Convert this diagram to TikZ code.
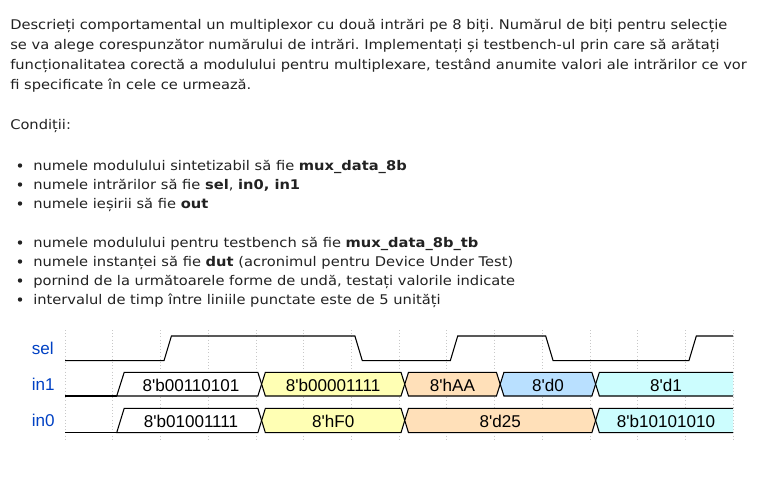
\documentclass[tikz,border=0pt]{standalone}
\usepackage{fontspec}
\setmainfont[FakeStretch=1.1]{DejaVu Sans}
\newfontfamily\wavefont{Liberation Sans}
\definecolor{txtc}{RGB}{34,34,34}
\definecolor{lblc}{HTML}{0041C4}
\definecolor{cyel}{HTML}{FFFFB4}
\definecolor{corg}{HTML}{FFE0B9}
\definecolor{cblu}{HTML}{B9E0FF}
\definecolor{ccya}{HTML}{CCFDFE}
\definecolor{gridc}{RGB}{200,200,200}
\tikzset{
  txt/.style={inner sep=0pt, anchor=base west, text=txtc, font=\fontsize{10pt}{12pt}\selectfont\frenchspacing},
  bul/.style={circle, fill=txtc, inner sep=0pt, minimum size=3.3pt},
  wave/.style={line width=0.8pt, draw=black},
  lbl/.style={inner sep=0pt, anchor=base west, text=lblc, font=\wavefont\fontsize{12.8pt}{14pt}\selectfont},
  bustext/.style={inner sep=0pt, anchor=base, text=black, font=\wavefont\fontsize{12.8pt}{14pt}\selectfont},
  gridln/.style={draw=gridc, line width=0.5pt, dash pattern=on 0.8pt off 1.6pt}
}
\newcommand\busseg[7]{%
  \pgfmathsetmacro\xa{#1}\pgfmathsetmacro\xb{#2}\pgfmathsetmacro\mm{(#3+#4)/2}%
  \pgfmathsetmacro\cx{(\xa+9.5+\xb+2)/2}%
  \filldraw[wave, fill=#5] (\xa+5.75,\mm) -- (\xa+9.5,#3) -- (\xb+2,#3) -- (\xb+5.75,\mm) -- (\xb+2,#4) -- (\xa+9.5,#4) -- cycle;
  \node[bustext] (#7) at (\cx,\mm+7.4) {#6};
}
\begin{document}
\begin{tikzpicture}[x=0.75pt,y=-0.75pt]
\useasboundingbox (0,0) rectangle (780,480);
\fill[white] (0,0) rectangle (780,480);

% paragraph
\node[txt] (p1) at (10,29) {Descrieți comportamental un multiplexor cu două intrări pe 8 biți. Numărul de biți pentru selecție};
\node[txt] (p2) at (10,49) {se va alege corespunzător numărului de intrări. Implementați și testbench-ul prin care să arătați};
\node[txt] (p3) at (10,69) {funcționalitatea corectă a modulului pentru multiplexare, testând anumite valori ale intrărilor ce vor};
\node[txt] (p4) at (10,89) {fi specificate în cele ce urmează.};
\node[txt] (cond) at (10,129) {Condiții:};

% bullets
\node[bul] (b1) at (20,165.5) {};
\node[txt] (l1) at (33,170) {numele modulului sintetizabil să fie \textbf{mux\_data\_8b}};
\node[bul] (b2) at (20,184.5) {};
\node[txt] (l2) at (33,189) {numele intrărilor să fie \textbf{sel}, \textbf{in0, in1}};
\node[bul] (b3) at (20,203.5) {};
\node[txt] (l3) at (33,208) {numele ieșirii să fie \textbf{out}};

\node[bul] (b4) at (20,242.5) {};
\node[txt] (l4) at (33,247) {numele modulului pentru testbench să fie \textbf{mux\_data\_8b\_tb}};
\node[bul] (b5) at (20,261.5) {};
\node[txt] (l5) at (33,266) {numele instanței să fie \textbf{dut} (acronimul pentru Device Under Test)};
\node[bul] (b6) at (20,280.5) {};
\node[txt] (l6) at (33,285) {pornind de la următoarele forme de undă, testați valorile indicate};
\node[bul] (b7) at (20,299.5) {};
\node[txt] (l7) at (33,304) {intervalul de timp între liniile punctate este de 5 unități};

% grid lines
\foreach \i in {0,...,14} {
  \draw[gridln] ({65+47.714*\i},330) -- ({65+47.714*\i},440);
}

% labels
\node[lbl] (sel) at (31.5,354.3) {sel};
\node[lbl] (in1) at (31.5,390) {in1};
\node[lbl] (in0) at (31.5,426.5) {in0};

% sel waveform
\draw[wave] (65,360.7) -- (164.0,360.7) -- (171.4,336) -- (354.9,336) -- (362.3,360.7)
  -- (450.3,360.7) -- (457.7,336) -- (545.7,336) -- (553.1,360.7)
  -- (688.9,360.7) -- (696.3,336) -- (733,336);

% in1
\draw[wave] (65,396) -- (116.7,396);
\filldraw[wave, fill=white] (116.7,396) -- (124.2,372.3) -- (257.86,372.3) -- (261.6,384.15) -- (257.86,396) -- cycle;
\node[bustext] (v11) at (191,391.6) {8'b00110101};
\busseg{255.86}{399.0}{372.3}{396}{cyel}{8'b00001111}{v12}
\busseg{399.0}{494.43}{372.3}{396}{corg}{8'hAA}{v13}
\busseg{494.43}{589.86}{372.3}{396}{cblu}{8'd0}{v14}
\fill[ccya] (595.61,384.15) -- (599.36,372.3) -- (733,372.3) -- (733,396) -- (599.36,396) -- cycle;
\draw[wave] (733,372.3) -- (599.36,372.3) -- (595.61,384.15) -- (599.36,396) -- (733,396);
\node[bustext] (v15) at (666,391.6) {8'd1};

% in0
\draw[wave] (65,432.7) -- (116.7,432.7);
\filldraw[wave, fill=white] (116.7,432.7) -- (124.2,408.3) -- (257.86,408.3) -- (261.6,420.5) -- (257.86,432.7) -- cycle;
\node[bustext] (v01) at (191,427.9) {8'b01001111};
\busseg{255.86}{399.0}{408.3}{432.7}{cyel}{8'hF0}{v02}
\busseg{399.0}{589.86}{408.3}{432.7}{corg}{8'd25}{v03}
\fill[ccya] (595.61,420.5) -- (599.36,408.3) -- (733,408.3) -- (733,432.7) -- (599.36,432.7) -- cycle;
\draw[wave] (733,408.3) -- (599.36,408.3) -- (595.61,420.5) -- (599.36,432.7) -- (733,432.7);
\node[bustext] (v04) at (666,427.9) {8'b10101010};
\end{tikzpicture}
\end{document}
